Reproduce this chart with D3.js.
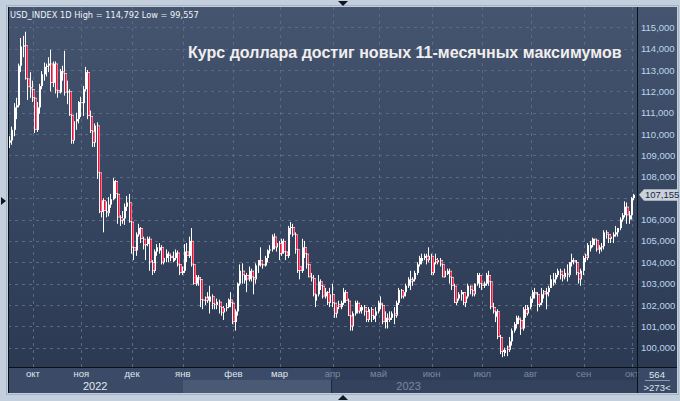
<!DOCTYPE html>
<html><head><meta charset="utf-8">
<script src="https://cdn.jsdelivr.net/npm/d3@7"></script>
<style>html,body{margin:0;padding:0;background:#c3cfdc;overflow:hidden}svg{display:block}</style>
</head><body><svg id="c" width="680" height="401"></svg>
<script>
// ---------------- DATA ----------------
const symbol = "USD_INDEX 1D";
const title = "Курс доллара достиг новых 11-месячных максимумов";
const firstDate = "2022-09-19";          // first daily bar (weekdays only)
const monthNames = ["янв","фев","мар","апр","май","июн","июл","авг","сен","окт","ноя","дек"];
const yTicks = [100,101,102,103,104,105,106,107,108,109,110,111,112,113,114,115];
const cornerLabels = ["564", ">273<"];

const open = [
109.60,109.70,110.20,111.25,111.35,113.20,114.10,114.15,112.60,112.20,
112.10,111.70,110.20,111.25,112.25,112.80,113.15,113.20,113.30,112.40,113.30,112.05,111.95,112.95,112.85,111.95,112.00,110.90,109.70,110.60,110.70,
111.50,111.45,112.10,112.90,110.85,110.15,109.60,110.40,108.20,106.35,106.90,106.40,106.30,106.70,106.95,107.80,107.20,106.10,105.95,106.05,106.60,106.80,
105.90,104.70,104.55,105.30,105.60,105.10,104.80,104.85,105.10,104.00,103.60,104.50,104.55,104.70,104.00,104.20,104.40,104.30,104.05,104.20,104.45,103.90,
103.50,103.60,104.50,104.30,105.00,103.90,103.00,103.30,103.20,102.25,102.35,102.20,102.15,102.40,102.05,102.00,102.15,101.90,101.65,101.85,101.90,102.25,
102.10,101.20,101.70,103.00,103.60,103.15,103.40,103.20,103.60,103.30,103.20,103.85,104.10,103.90,103.85,104.20,104.55,104.60,105.20,104.70,
104.90,104.40,105.00,104.50,104.30,105.60,105.65,105.30,104.60,103.80,103.60,104.70,104.40,103.90,103.30,103.25,102.20,102.50,103.10,102.90,102.40,102.60,102.10,
102.50,102.10,101.60,102.05,101.90,102.10,102.60,102.20,101.50,101.00,101.60,102.10,101.70,101.75,101.90,101.70,101.30,101.80,101.35,101.50,
101.70,102.10,102.00,101.20,101.40,101.30,101.40,101.60,101.50,102.10,102.70,102.40,102.60,102.90,103.20,103.10,103.20,103.50,103.90,104.05,104.20,104.30,104.10,
104.30,103.50,104.15,104.00,104.10,103.90,103.30,103.45,103.60,103.30,102.90,102.10,102.30,102.50,102.60,102.10,102.40,102.90,102.70,102.50,103.00,103.40,
103.00,102.90,103.00,103.40,103.10,101.90,101.45,101.70,100.50,99.80,99.75,100.05,99.90,100.30,100.80,101.10,101.40,101.30,100.90,101.80,101.60,
101.90,102.30,102.60,102.50,102.00,102.10,102.65,102.50,102.60,102.80,103.05,103.20,103.40,103.60,103.40,103.30,103.50,103.40,104.00,104.10,104.00,103.50,103.20,
103.60,104.35,104.20,104.65,104.80,105.10,105.05,104.60,104.70,104.75,105.40,105.30,105.10,105.20,105.30,105.40,105.60,106.00,106.20,106.60,106.00,
106.20,107.00];

const high = [
109.90,110.35,111.45,111.70,113.30,114.50,114.60,114.792,113.30,112.90,
112.50,111.80,111.50,112.35,112.95,113.35,113.30,113.60,113.95,113.40,113.40,112.40,113.05,113.20,113.90,112.50,112.10,111.00,110.75,111.00,111.55,
111.75,112.25,113.15,113.00,111.10,110.45,110.50,110.55,108.30,107.15,107.00,106.85,107.05,107.20,107.95,107.85,107.40,106.20,106.40,106.75,107.10,107.20,
106.00,105.00,105.40,105.80,105.65,105.20,105.05,105.20,105.20,104.10,104.60,104.85,104.90,104.80,104.30,104.60,104.50,104.40,104.50,104.60,104.55,104.00,
103.80,104.85,104.90,105.20,105.60,104.00,103.40,103.40,103.30,102.40,102.40,102.60,102.90,102.50,102.30,102.30,102.25,102.10,101.95,102.10,102.30,102.60,
102.20,101.80,103.05,103.90,103.95,103.60,103.50,103.80,103.70,103.60,103.95,104.10,104.70,104.00,104.30,104.60,104.80,105.30,105.35,105.10,
105.00,105.10,105.10,104.70,105.70,105.88,105.80,105.40,104.70,103.90,105.10,105.00,104.50,104.00,103.50,103.40,102.70,103.40,103.20,103.00,102.80,102.65,102.80,
103.00,102.20,102.10,102.20,102.20,102.80,102.70,102.30,101.60,101.70,102.20,102.20,102.10,102.00,102.00,101.90,101.90,101.90,101.70,101.90,
102.20,102.40,102.10,101.70,101.60,101.70,101.70,101.90,102.20,102.80,102.75,102.70,103.00,103.30,103.60,103.30,103.60,104.00,104.30,104.40,104.40,104.40,104.70,
104.40,104.10,104.40,104.20,104.20,104.00,103.70,103.70,103.70,103.40,103.00,102.40,102.60,102.70,102.60,102.50,103.00,102.90,102.80,103.00,103.50,103.50,
103.20,103.10,103.50,103.60,103.10,102.10,101.80,101.80,100.60,100.10,100.00,100.10,100.50,100.90,101.20,101.50,101.50,101.40,101.90,102.00,102.00,
102.40,102.70,102.80,102.60,102.20,102.80,102.70,102.80,102.90,103.40,103.50,103.50,103.70,103.70,103.50,103.70,103.90,104.00,104.40,104.20,104.10,103.60,103.70,
104.30,104.40,104.90,105.00,105.15,105.10,105.10,104.80,104.90,105.50,105.50,105.30,105.30,105.40,105.70,105.60,106.10,106.30,106.85,106.80,106.40,
107.05,107.20];

const low = [
109.35,109.50,109.90,110.70,111.25,112.90,113.60,112.55,111.60,111.70,
111.50,110.05,110.10,110.95,112.10,112.50,112.70,112.90,112.00,112.20,111.90,111.70,111.90,112.50,111.80,111.40,110.85,109.55,109.55,110.20,110.50,
110.80,110.85,112.00,110.70,110.05,109.40,109.40,107.90,106.30,106.10,105.40,106.10,106.15,106.55,106.90,107.00,105.80,105.70,105.80,105.75,106.40,105.85,
104.40,104.10,104.30,105.20,104.90,104.60,104.10,104.75,103.60,103.40,103.50,104.30,104.40,103.90,103.90,104.00,104.00,104.05,104.00,104.10,103.80,103.40,
103.40,103.50,104.00,104.20,103.80,102.95,102.90,102.90,101.90,101.80,102.00,102.10,101.60,101.80,101.80,101.80,101.60,101.50,101.30,101.70,101.85,101.90,
101.10,100.80,101.50,102.90,103.00,103.00,102.60,103.10,103.10,102.50,103.00,103.50,103.80,103.70,103.80,104.00,104.40,104.50,104.60,104.50,
104.10,104.30,104.40,104.10,104.20,105.30,105.20,104.40,103.50,103.20,103.50,104.20,103.70,103.30,103.10,102.40,101.90,102.40,102.70,102.30,102.30,102.00,101.90,
101.90,101.40,101.40,101.80,101.80,102.00,102.10,101.50,100.80,100.80,101.50,101.60,101.60,101.60,101.50,101.20,101.20,101.20,101.30,101.20,
101.60,101.80,101.10,100.90,100.90,101.20,101.30,101.10,101.40,102.00,102.30,102.30,102.40,102.80,102.70,102.90,103.10,103.40,103.80,103.90,104.10,103.90,104.00,
103.40,103.40,103.90,103.90,103.80,103.30,103.30,103.40,103.00,102.70,102.10,102.00,102.20,102.20,102.00,101.90,102.30,102.50,102.40,102.40,102.90,102.80,
102.70,102.80,102.90,102.90,101.80,101.60,101.20,100.40,99.70,99.557,99.60,99.60,99.80,100.10,100.70,100.90,101.10,100.60,100.80,101.40,101.50,
101.80,102.10,102.30,101.70,101.90,102.00,102.30,101.80,102.40,102.80,102.90,103.00,103.30,103.20,103.10,103.20,103.10,103.30,103.80,103.90,103.40,103.00,102.90,
103.40,104.00,104.10,104.50,104.70,104.80,104.50,104.40,104.50,104.60,105.10,104.90,104.90,104.90,105.20,105.20,105.50,105.90,106.10,105.80,105.80,
106.00,106.90];

const close = [
109.70,110.20,111.25,111.35,113.20,114.10,114.15,112.60,112.20,112.10,
111.70,110.20,111.25,112.25,112.80,113.15,113.20,113.30,112.40,113.30,112.05,111.95,112.95,112.85,111.95,112.00,110.90,109.70,110.60,110.70,111.50,
111.45,112.10,112.90,110.85,110.15,109.60,110.40,108.20,106.35,106.90,106.40,106.30,106.70,106.95,107.80,107.20,106.10,105.95,106.05,106.60,106.80,105.90,
104.70,104.55,105.30,105.60,105.10,104.80,104.85,105.10,104.00,103.60,104.50,104.70,104.70,104.00,104.20,104.40,104.30,104.20,104.20,104.45,103.90,103.50,
103.60,104.50,104.30,105.00,103.90,103.00,103.30,103.20,102.25,102.20,102.20,102.40,102.40,102.05,102.00,102.15,101.90,101.65,101.85,101.90,102.25,102.10,
101.20,101.70,103.00,103.60,103.40,103.40,103.20,103.60,103.30,103.20,103.85,104.10,103.90,103.85,104.20,104.55,104.60,105.20,104.70,104.90,
104.40,105.00,104.50,104.30,105.60,105.65,105.30,104.60,103.60,103.60,104.70,104.40,103.90,103.30,103.25,102.50,102.50,103.10,102.90,102.40,102.60,102.10,102.50,
102.10,101.60,101.90,101.90,102.10,102.60,102.20,101.50,101.00,101.60,102.10,101.70,101.90,101.90,101.70,101.30,101.80,101.50,101.50,101.70,
102.10,102.00,101.20,101.40,101.30,101.40,101.60,101.50,102.10,102.70,102.40,102.60,102.90,103.20,103.10,103.20,103.50,103.90,104.20,104.20,104.30,104.10,104.30,
103.50,104.00,104.00,104.10,103.90,103.30,103.60,103.60,103.30,102.90,102.10,102.30,102.50,102.60,102.10,102.40,102.90,102.70,102.50,103.00,103.40,103.00,
102.90,103.00,103.40,103.10,101.90,101.70,101.70,100.50,99.80,99.90,99.90,99.90,100.30,100.80,101.10,101.40,101.30,100.90,101.80,101.60,101.90,
102.30,102.60,102.50,102.00,102.10,102.50,102.50,102.60,102.80,103.20,103.20,103.40,103.60,103.40,103.30,103.50,103.40,104.00,104.10,104.00,103.50,103.20,103.60,
104.20,104.20,104.80,104.80,105.10,105.05,104.60,104.70,104.75,105.40,105.30,105.10,105.20,105.30,105.40,105.60,106.00,106.20,106.60,106.20,106.20,
107.00,107.155];

// ---------------- BUILD ----------------
const n = close.length;
const dates = [];
{ let d = new Date(firstDate + "T12:00:00");
  while (dates.length < n) { const wd = d.getDay(); if (wd !== 0 && wd !== 6) dates.push(new Date(d)); d.setDate(d.getDate() + 1); } }
const bars = d3.range(n).map(i => ({i, date: dates[i], o: open[i], h: high[i], l: low[i], c: close[i]}));

const W = 680, H = 401;
const L = 8, T = 7, R = 637, B = 367, AR = 677, AB = 393;
const FONT = "'Liberation Sans', Arial, sans-serif";
const FONT2 = "'DejaVu Sans', Verdana, sans-serif";

const svg = d3.select("#c");
const defs = svg.append("defs");
const grad = defs.append("linearGradient").attr("id","bg").attr("x1",0).attr("y1",0).attr("x2",0).attr("y2",1);
grad.append("stop").attr("offset","0%").attr("stop-color","#45556f");
grad.append("stop").attr("offset","100%").attr("stop-color","#2b3953");

svg.append("rect").attr("width",W).attr("height",H).attr("fill","#c3cfdc");
svg.append("rect").attr("x",L).attr("y",T).attr("width",AR-L).attr("height",B-T).attr("fill","url(#bg)");

const x = d3.scaleBand().domain(d3.range(n)).range([8.8, 8.8 + n * 2.304]).padding(0);
const cx = i => x(i) + x.bandwidth() / 2;
const y = d3.scaleLinear().domain([100, 115]).range([347.7, 27.3]);

// month ticks
const monthStarts = bars.filter((b, k) => k > 0 && b.date.getMonth() !== bars[k-1].date.getMonth());
const thumbX0 = 183, thumbX1 = 331;

// bottom panel
svg.append("rect").attr("x",L).attr("y",B).attr("width",thumbX1-L).attr("height",AB-B).attr("fill","#3b4a66");
svg.append("rect").attr("x",thumbX1).attr("y",B).attr("width",R-thumbX1).attr("height",AB-B).attr("fill","#2f3d58");
svg.append("rect").attr("x",thumbX0).attr("y",380).attr("width",thumbX1-thumbX0).attr("height",AB-380).attr("fill","#4a5974");
svg.append("rect").attr("x",thumbX1).attr("y",380).attr("width",R-thumbX1).attr("height",AB-380).attr("fill","#34425d");
svg.append("line").attr("x1",thumbX1+0.5).attr("x2",thumbX1+0.5).attr("y1",380).attr("y2",AB).attr("stroke","#1e2638");
svg.append("rect").attr("x",R).attr("y",B).attr("width",AR-R).attr("height",AB-B).attr("fill","#3a4965");

// grid
const grid = svg.append("g").attr("stroke","#5a6a84").attr("stroke-dasharray","3,4").attr("stroke-width",1);
grid.selectAll("line.h").data(yTicks).join("line").attr("class","h")
  .attr("x1",L).attr("x2",R).attr("y1",d=>Math.round(y(d))+0.5).attr("y2",d=>Math.round(y(d))+0.5);
grid.selectAll("line.v").data(monthStarts).join("line").attr("class","v")
  .attr("x1",d=>Math.round(cx(d.i))+0.5).attr("x2",d=>Math.round(cx(d.i))+0.5).attr("y1",T).attr("y2",B);

// candles
const cg = svg.append("g");
cg.selectAll("line.w").data(bars).join("line").attr("class","w")
  .attr("x1",d=>Math.round(cx(d.i))-0.5).attr("x2",d=>Math.round(cx(d.i))-0.5)
  .attr("y1",d=>y(d.h)).attr("y2",d=>y(d.l)).attr("stroke","#ffffff").attr("stroke-width",1);
cg.selectAll("rect.b").data(bars).join("rect").attr("class","b")
  .attr("x",d=>Math.round(cx(d.i))-1).attr("width",d=>d.c<d.o?3:2)
  .attr("y",d=>y(Math.max(d.o,d.c))).attr("height",d=>Math.max(1, Math.abs(y(d.o)-y(d.c))))
  .attr("fill","#ffffff");
cg.selectAll("rect.r").data(bars.filter(d=>d.c<d.o)).join("rect").attr("class","r")
  .attr("x",d=>Math.round(cx(d.i))).attr("width",1.6)
  .attr("y",d=>y(d.o)+0.6).attr("height",d=>Math.max(0.5, y(d.c)-y(d.o)-1.2))
  .attr("fill","#e8123a");

// last price (for tag)
const last = close[n-1], ly = y(last);

// right axis (ticks hidden behind the price tag are dropped)
const yAxis = d3.axisRight(y).tickValues(yTicks.filter(t => Math.abs(y(t) - ly) > 9)).tickSize(0).tickPadding(4)
  .tickFormat(d => d.toFixed(3).replace(".", ","));
const ya = svg.append("g").attr("transform",`translate(${R},0)`).call(yAxis);
ya.select(".domain").remove();
ya.selectAll("text").attr("fill","#bdd5ee").attr("font-family",FONT).attr("font-size",9.5);

// bottom axis
const monthColor = d => cx(d) < thumbX1 ? "#dfe6f0" : "#7c899f";
const xAxis = d3.axisBottom(x).tickValues(monthStarts.map(d=>d.i)).tickSize(0).tickPadding(3)
  .tickFormat(i => monthNames[dates[i].getMonth()]);
const xa = svg.append("g").attr("transform",`translate(0,${B})`).call(xAxis);
xa.select(".domain").remove();
xa.selectAll("text").attr("fill", i => monthColor(i)).attr("font-family",FONT).attr("font-size",9.5);

// year labels, centred on the visible part of each year
const years = d3.groups(bars, b => b.date.getFullYear()).map(([yr, arr]) => {
  const x0 = Math.max(L, x(arr[0].i)), x1 = Math.min(R, x(arr[arr.length-1].i) + x.bandwidth());
  return {yr, xm: (x0 + x1) / 2};
});
svg.append("g").selectAll("text").data(years).join("text")
  .attr("x",d=>d.xm).attr("y",390).attr("text-anchor","middle")
  .attr("fill",d=>d.xm < thumbX1 ? "#e2e8f0" : "#7a879d").attr("font-family",FONT).attr("font-size",11)
  .text(d=>d.yr);

// separators & borders
svg.append("line").attr("x1",R+0.5).attr("x2",R+0.5).attr("y1",T).attr("y2",AB).attr("stroke","#0c1018");
svg.append("line").attr("x1",L).attr("x2",AR).attr("y1",B+0.5).attr("y2",B+0.5).attr("stroke","#0c1018");
svg.append("line").attr("x1",L+0.5).attr("x2",L+0.5).attr("y1",T).attr("y2",AB).attr("stroke","#0c1018");
svg.append("rect").attr("x",6.5).attr("y",5.5).attr("width",AR-5).attr("height",AB-4).attr("fill","none").attr("stroke","#a5b3c3");

// corner box
svg.append("text").attr("x",657).attr("y",378).attr("text-anchor","middle").attr("fill","#dde6f0")
  .attr("font-family",FONT).attr("font-size",9.5).text(cornerLabels[0]);
svg.append("line").attr("x1",645).attr("x2",670).attr("y1",380.5).attr("y2",380.5).attr("stroke","#8a98ae");
svg.append("text").attr("x",657).attr("y",391).attr("text-anchor","middle").attr("fill","#dde6f0")
  .attr("font-family",FONT).attr("font-size",9.5).text(cornerLabels[1]);

// last price tag
svg.append("path").attr("d",`M639,${ly} L644,${ly-5.5} L678,${ly-5.5} L678,${ly+6} L644,${ly+6} Z`).attr("fill","#c9d1da");
svg.append("text").attr("x",645).attr("y",ly+3.6).attr("fill","#1d2843").attr("font-family",FONT).attr("font-size",9.5)
  .text(last.toFixed(3).replace(".", ","));

// header
const fmt = v => v.toFixed(3).replace(".", ",");
const hdr = svg.append("text").attr("x",10).attr("y",18).attr("fill","#eef3f8").attr("font-family",FONT2).attr("font-size",9)
  .text(`${symbol} High = ${fmt(d3.max(high))} Low = ${fmt(d3.min(low))}`);
{ const len = hdr.node().getComputedTextLength(); hdr.attr("font-size", 9 * 189 / len); }

// title
const tt = svg.append("text").attr("x",188).attr("y",57.5).attr("fill","#f1eeee").attr("font-family",FONT)
  .attr("font-weight","bold").attr("font-size",16).text(title);
{ const len = tt.node().getComputedTextLength(); tt.attr("font-size", 16 * 434 / len); }

// small navigation triangles
svg.append("path").attr("d","M338,1 L348,1 L343,6 Z").attr("fill","#111722");
svg.append("path").attr("d","M338,400 L348,400 L343,395 Z").attr("fill","#111722");
svg.append("path").attr("d","M1,197 L1,205 L6,201 Z").attr("fill","#111722");
</script></body></html>
